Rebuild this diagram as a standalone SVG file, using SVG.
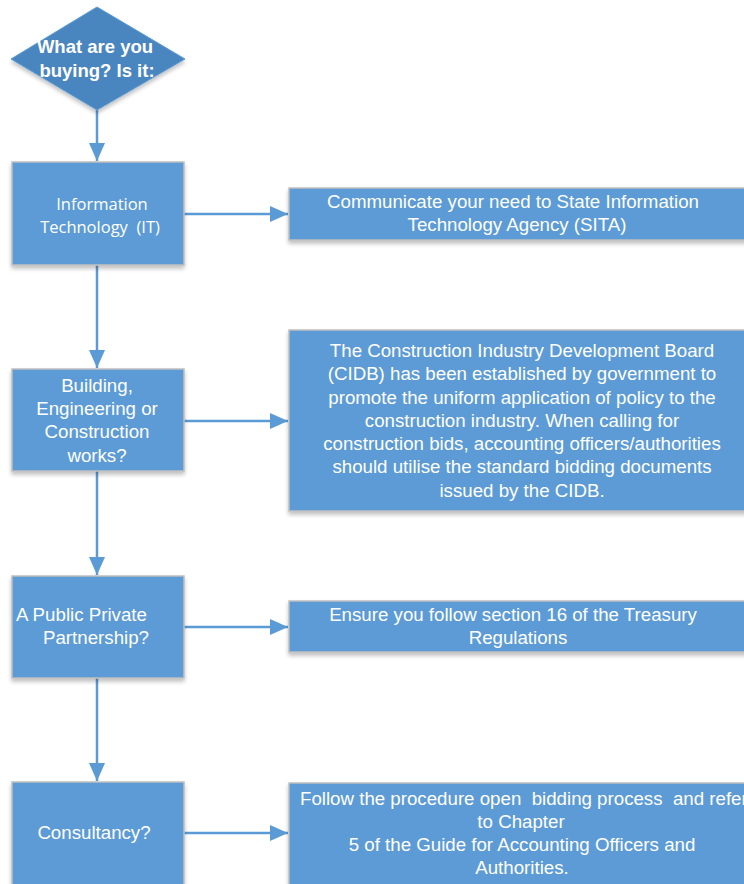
<svg xmlns="http://www.w3.org/2000/svg" width="744" height="884" viewBox="0 0 744 884">
  <defs>
    <filter id="shadow" x="-10%" y="-10%" width="120%" height="130%">
      <feGaussianBlur in="SourceAlpha" stdDeviation="2"/>
      <feOffset dx="0" dy="3" result="b"/>
      <feComponentTransfer><feFuncA type="linear" slope="0.25"/></feComponentTransfer>
      <feMerge><feMergeNode/><feMergeNode in="SourceGraphic"/></feMerge>
    </filter>
    <marker id="arrow" viewBox="0 0 18 16" refX="18" refY="8" markerWidth="18" markerHeight="16" markerUnits="userSpaceOnUse" orient="auto">
      <path d="M0,0 L18,8 L0,16 Z" fill="#5B9BD5"/>
    </marker>
  </defs>
  <style>
    text { white-space: pre; }
    .box { fill: #5B9BD5; stroke: #BFBFBF; stroke-width: 1.5; filter: url(#shadow); }
    .dia { fill: #4A86BF; stroke: #5B9BD5; stroke-width: 1; filter: url(#shadow); }
    .conn { stroke: #5B9BD5; stroke-width: 2.5; fill: none; marker-end: url(#arrow); }
    .t { font-family: "Liberation Sans", Arial, sans-serif; font-size: 18.7px; fill: #FFFFFF; text-anchor: middle; }
    .tl { font-family: "Open Sans", "Liberation Sans", sans-serif; font-size: 16.5px; fill: #FFFFFF; text-anchor: middle; }
    .tb { font-family: "Liberation Sans", Arial, sans-serif; font-size: 18.5px; font-weight: bold; fill: #FFFFFF; text-anchor: middle; }
  </style>

  <g id="connectors">
    <line class="conn" x1="97" y1="110" x2="97" y2="161"/>
    <line class="conn" x1="97" y1="265" x2="97" y2="368"/>
    <line class="conn" x1="97" y1="471" x2="97" y2="575"/>
    <line class="conn" x1="97" y1="678" x2="97" y2="781"/>
    <line class="conn" x1="184" y1="214" x2="288" y2="214"/>
    <line class="conn" x1="184" y1="421" x2="288" y2="421"/>
    <line class="conn" x1="184" y1="627" x2="288" y2="627"/>
    <line class="conn" x1="184" y1="833" x2="288" y2="833"/>
  </g>

  <g id="start">
    <polygon class="dia" points="97,7 185,59 97,110 11,59"/>
    <text class="tb" x="95" y="53">What are you</text>
    <text class="tb" x="97" y="77">buying? Is it:</text>
  </g>

  <g id="it">
    <rect class="box" x="12" y="162" width="172" height="103"/>
    <text class="tl" x="102" y="210">Information</text>
    <text class="tl" x="100" y="233">Technology  (IT)</text>
  </g>

  <g id="sita">
    <rect class="box" x="289" y="188" width="470" height="52"/>
    <text class="t" x="513" y="208">Communicate your need to State Information</text>
    <text class="t" x="517" y="231">Technology Agency (SITA)</text>
  </g>

  <g id="construction">
    <rect class="box" x="12" y="369" width="172" height="102"/>
    <text class="t" x="97" y="392">Building,</text>
    <text class="t" x="97" y="415">Engineering or</text>
    <text class="t" x="97" y="438">Construction</text>
    <text class="t" x="97" y="462">works?</text>
  </g>

  <g id="cidb">
    <rect class="box" x="289" y="330" width="470" height="181"/>
    <text class="t" x="522" y="357">The Construction Industry Development Board</text>
    <text class="t" x="522" y="380">(CIDB) has been established by government to</text>
    <text class="t" x="522" y="404">promote the uniform application of policy to the</text>
    <text class="t" x="522" y="427">construction industry. When calling for</text>
    <text class="t" x="522" y="450">construction bids, accounting officers/authorities</text>
    <text class="t" x="522" y="473">should utilise the standard bidding documents</text>
    <text class="t" x="522" y="497">issued by the CIDB.</text>
  </g>

  <g id="ppp">
    <rect class="box" x="12" y="576" width="172" height="102"/>
    <text class="t" x="16" y="621" style="text-anchor:start">A Public Private</text>
    <text class="t" x="43" y="644" style="text-anchor:start">Partnership?</text>
  </g>

  <g id="treasury">
    <rect class="box" x="289" y="601" width="470" height="51"/>
    <text class="t" x="513" y="621">Ensure you follow section 16 of the Treasury</text>
    <text class="t" x="518" y="644">Regulations</text>
  </g>

  <g id="consultancy">
    <rect class="box" x="12" y="782" width="172" height="110"/>
    <text class="t" x="94" y="839">Consultancy?</text>
  </g>

  <g id="bidding">
    <rect class="box" x="289" y="783" width="470" height="110"/>
    <text class="t" x="300" y="805" style="text-anchor:start">Follow the procedure open  bidding process  and refer</text>
    <text class="t" x="521" y="828">to Chapter</text>
    <text class="t" x="522" y="851">5 of the Guide for Accounting Officers and</text>
    <text class="t" x="522" y="874">Authorities.</text>
  </g>
</svg>
